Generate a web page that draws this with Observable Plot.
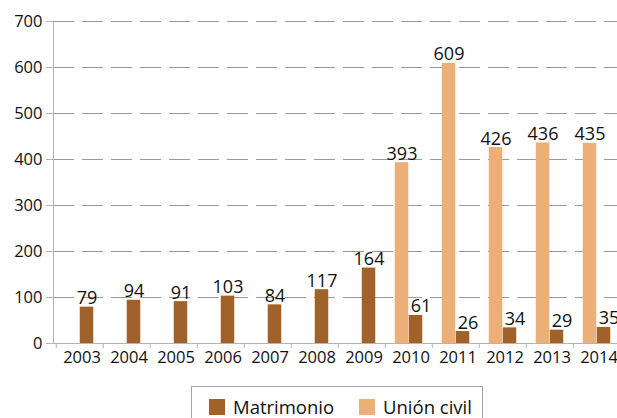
<!DOCTYPE html>
<html><head><meta charset="utf-8">
<script src="https://cdn.jsdelivr.net/npm/d3@7"></script>
<script src="https://cdn.jsdelivr.net/npm/@observablehq/plot@0.6"></script>
<style>
html,body{margin:0;padding:0;overflow:hidden;background:#fff;width:617px;height:418px;position:relative;}
#chart{position:absolute;left:0;top:0;width:625px;}
#chart svg{max-width:none !important;}
#legend{position:absolute;left:191px;top:386px;width:292px;height:40px;border:1px solid #a6a6a6;box-sizing:border-box;font-family:"Open Sans";font-size:18.5px;color:#111;background:#fff;}
.sw{position:absolute;width:16px;height:16px;top:12px;}
.lb{position:absolute;top:7px;white-space:nowrap;line-height:normal;}
</style>
</head><body>
<div id="chart"></div>
<div id="legend"></div>
<script>
const years = ["2003","2004","2005","2006","2007","2008","2009","2010","2011","2012","2013","2014"];
const matrimonio = [79, 94, 91, 103, 84, 117, 164, 61, 26, 34, 29, 35];
const unionCivil = [null, null, null, null, null, null, null, 393, 609, 426, 436, 435];
const seriesNames = ["Matrimonio", "Unión civil"];
const seriesColors = ["#a0622a", "#edaf78"];
const yTicks = [0, 100, 200, 300, 400, 500, 600, 700];

const data = years.flatMap((y, i) => [
  {year: y, serie: "Unión civil", value: unionCivil[i], paired: unionCivil[i] != null},
  {year: y, serie: "Matrimonio", value: matrimonio[i], paired: unionCivil[i] != null}
]).filter(d => d.value != null);
const dataU = data.filter(d => d.serie === "Unión civil");
const dataM = data.filter(d => d.serie === "Matrimonio");

const W = 625, H = 372, ML = 53, MR = 2;
const bw = (W - ML - MR) / years.length;
const barW = 14;
const axisGray = "#b4b4b4";
const labelStyle = {fontSize: 18, fill: "#111", dy: -3, lineAnchor: "bottom"};

const chart = Plot.plot({
  width: W, height: H,
  marginLeft: ML, marginRight: MR, marginTop: 21, marginBottom: 29,
  style: {fontFamily: "Open Sans", color: "#111", background: "transparent", maxWidth: "none"},
  x: {type: "band", domain: years, padding: 0, label: null},
  y: {domain: [0, 700], label: null},
  marks: [
    Plot.gridY(yTicks.filter(v => v > 0), {stroke: "#9a9a9a", strokeOpacity: 1, strokeDasharray: "21,8"}),
    Plot.ruleY([0], {stroke: axisGray}),
    Plot.frame({anchor: "left", stroke: axisGray}),
    Plot.barY(dataU, {x: "year", y: "value", fill: seriesColors[1], insetLeft: bw/2 - barW, insetRight: bw/2}),
    Plot.barY(dataM, {x: "year", y: "value", fill: seriesColors[0], insetLeft: bw/2, insetRight: bw/2 - barW}),
    Plot.text(dataU, {x: "year", y: "value", text: d => String(d.value), dx: -barW/2, ...labelStyle}),
    Plot.text(dataM.filter(d => !d.paired), {x: "year", y: "value", text: d => String(d.value), dx: barW/2, ...labelStyle}),
    Plot.text(dataM.filter(d => d.paired), {x: "year", y: "value", text: d => String(d.value), dx: barW/2 + 5, ...labelStyle}),
    Plot.axisY({ticks: yTicks, tickSize: 7, tickPadding: 4, stroke: axisGray, fontSize: 16.5, fill: "#111"}),
    Plot.axisX({tickSize: 0, tickPadding: 8, dx: 2, fontSize: 16.5, fill: "#111"}),
    Plot.axisX({tickSize: 5, tickFormat: () => "", dx: -bw/2, stroke: axisGray})
  ]
});
document.getElementById("chart").appendChild(chart);

const legend = document.getElementById("legend");
const pos = [{sw: 17, lb: 41}, {sw: 167, lb: 191}];
seriesNames.forEach((name, i) => {
  const s = document.createElement("div");
  s.className = "sw"; s.style.left = pos[i].sw + "px"; s.style.background = seriesColors[i];
  const l = document.createElement("div");
  l.className = "lb"; l.style.left = pos[i].lb + "px"; l.textContent = name;
  legend.appendChild(s); legend.appendChild(l);
});
</script>
</body></html>
